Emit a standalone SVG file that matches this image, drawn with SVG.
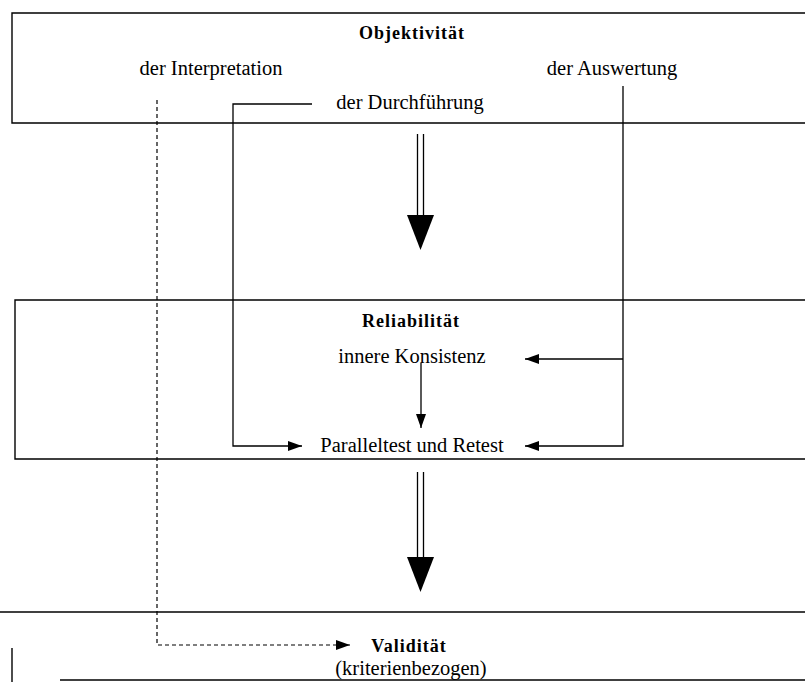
<svg xmlns="http://www.w3.org/2000/svg" width="805" height="682" viewBox="0 0 805 682">
<defs>
<style>
.t{font-family:"Liberation Serif","Times New Roman",serif;font-size:20.5px;fill:#000;text-anchor:middle}
.b{font-weight:bold;font-size:18px;letter-spacing:1px}
.ln{fill:none;stroke:#000;stroke-width:1.3}
.bx{fill:none;stroke:#000;stroke-width:1.4}
.ds{fill:none;stroke:#000;stroke-width:1.2;stroke-dasharray:4 3}
.hd{fill:#000;stroke:none}
</style>
<marker id="ah" viewBox="0 0 14 10" refX="14" refY="5" markerWidth="14" markerHeight="10" markerUnits="userSpaceOnUse" orient="auto">
<path d="M0,0 L14,5 L0,10 Z" fill="#000"/>
</marker>
</defs>
<rect width="805" height="682" fill="#fff"/>
<g id="objektivitaet">
<path class="bx" d="M810,13 H12 V123 H810"/>
<text class="t b" x="412" y="39">Objektivität</text>
<text class="t" x="211" y="75">der Interpretation</text>
<text class="t" x="612" y="75">der Auswertung</text>
<text class="t" x="410" y="109">der Durchführung</text>
</g>
<g id="reliabilitaet">
<path class="bx" d="M810,300 H15 V459 H810"/>
<text class="t b" x="411" y="327">Reliabilität</text>
<text class="t" x="412" y="363">innere Konsistenz</text>
<text class="t" x="412" y="452">Paralleltest und Retest</text>
</g>
<g id="validitaet">
<path class="bx" d="M0,612 H810"/>
<path class="bx" d="M12,648 V682"/>
<path class="ln" d="M60,680 H810" stroke-width="1"/>
<text class="t b" x="409" y="652">Validität</text>
<text class="t" x="411" y="675">(kriterienbezogen)</text>
</g>
<g id="connectors">
<path class="ln" d="M312,104 H233 V446 H302" marker-end="url(#ah)"/>
<path class="ln" d="M623,86 V446 H525" marker-end="url(#ah)"/>
<path class="ln" d="M623,359 H525" marker-end="url(#ah)"/>
<path class="ln" d="M421,363 V428" marker-end="url(#ah)"/>
<path class="ds" d="M157,100 V645 H350" marker-end="url(#ah)"/>
<path class="ln" d="M417.5,134 V216 M423.5,134 V216"/>
<path class="hd" d="M407,215 H434 L420.5,250 Z"/>
<path class="ln" d="M417.5,472 V558 M423.5,472 V558"/>
<path class="hd" d="M407,557 H434 L420.5,592 Z"/>
</g>
</svg>
